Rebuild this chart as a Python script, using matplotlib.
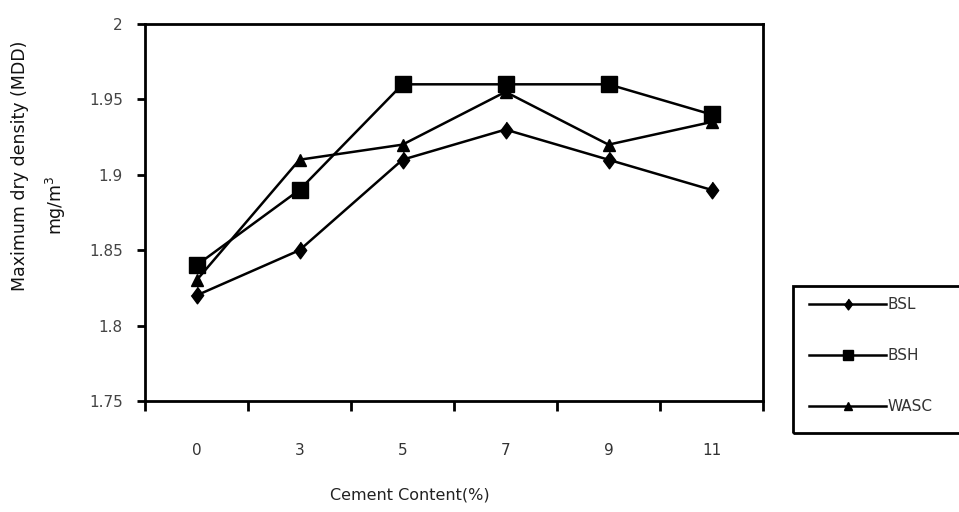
import numpy as np
import matplotlib.pyplot as plt
from matplotlib.patches import Rectangle

plt.rcParams['font.family'] = ['DejaVu Sans']

# data
cement = ["0", "3", "5", "7", "9", "11"]
bsl = [1.82, 1.85, 1.91, 1.93, 1.91, 1.89]
bsh = [1.84, 1.89, 1.96, 1.96, 1.96, 1.94]
wasc = [1.83, 1.91, 1.92, 1.955, 1.92, 1.935]

W, H = 959, 512
fig = plt.figure(figsize=(W / 100, H / 100), dpi=100)
ax = fig.add_axes([145 / W, 1 - 401 / H, (763 - 145) / W, (401 - 24) / H])

diamond = [(0, 1.35), (1, 0), (0, -1.35), (-1, 0)]
x = np.arange(len(cement))
ax.plot(x, bsl, color="black", lw=1.8, marker=diamond, ms=12, label="BSL")
ax.plot(x, bsh, color="black", lw=1.8, marker="s", ms=11, label="BSH")
ax.plot(x, wasc, color="black", lw=1.8, marker="^", ms=9, label="WASC")

ax.set_xlim(-0.5, len(cement) - 0.5)
ax.set_ylim(1.75, 2.0)
ax.set_yticks([1.75, 1.8, 1.85, 1.9, 1.95, 2.0])
ax.set_yticklabels(["1.75", "1.8", "1.85", "1.9", "1.95", "2"])
ax.set_xticks(x)
ax.set_xticklabels(cement)
ax.set_xticks(np.arange(len(cement) + 1) - 0.5, minor=True)
ax.tick_params(axis="x", which="major", length=0, pad=30, labelsize=11, labelcolor="#333333")
ax.tick_params(axis="x", which="minor", length=7, width=2, direction="out", color="black")
ax.tick_params(axis="y", length=6, width=2, pad=10, labelsize=11, labelcolor="#444444", color="black")
for s in ax.spines.values():
    s.set_linewidth(2)

fig.text(410 / W, 1 - 495 / H, "Cement Content(%)", fontsize=11.5, color="#222222",
         ha="center", va="center")
fig.text(20 / W, 1 - 166 / H, "Maximum dry density (MDD)", fontsize=12.5, color="#111111",
         rotation=90, ha="center", va="center")
fig.text(56 / W, 1 - 205 / H, "mg/m$^3$", fontsize=12.5, color="#111111",
         rotation=90, ha="center", va="center")

# legend box runs off the right edge of the picture
fig.patches.append(Rectangle((793 / W, 1 - 433 / H), 200 / W, (433 - 286) / H,
                             transform=fig.transFigure, fill=False, lw=2, ec="black"))
leg = fig.legend(loc="upper left", bbox_to_anchor=(798 / W, 1 - 286 / H),
                 frameon=False, fontsize=11, handlelength=5.0, labelspacing=2.35,
                 borderpad=0.75, handletextpad=0.1, borderaxespad=0, markerscale=0.65)
for t in leg.get_texts():
    t.set_color("#333333")

fig.savefig("out.png", dpi=100)
